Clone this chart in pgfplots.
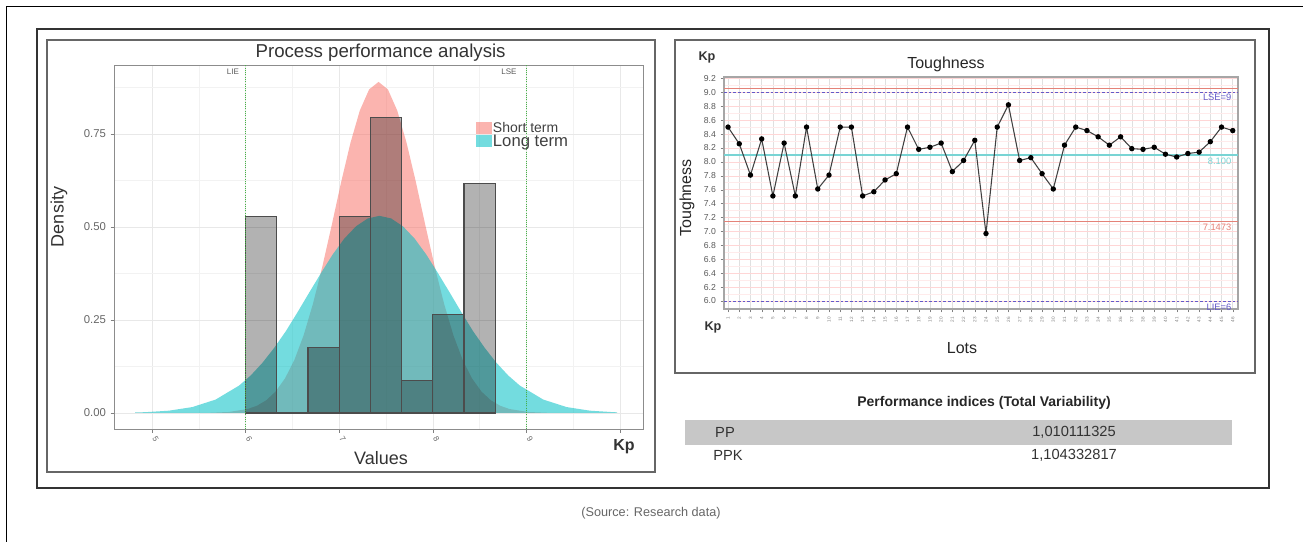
\documentclass[border=0pt]{standalone}
\usepackage{fontspec}
\setmainfont{Liberation Sans}
\usepackage{pgfplots}
\pgfplotsset{compat=1.18}
\usepackage{pgfplotstable}

\definecolor{stred}{HTML}{F8766D}
\definecolor{ltcyan}{HTML}{00BFC4}
\definecolor{limblue}{RGB}{100,90,200}
\definecolor{clcyan}{RGB}{120,212,212}
\definecolor{lclred}{RGB}{228,130,120}
\definecolor{specgreen}{RGB}{70,180,70}

\pgfplotstableread{
x y
4.82 0.0000
5.42 0.0001
5.62 0.0006
5.82 0.0027
6.02 0.0106
6.12 0.0194
6.22 0.0342
6.32 0.0576
6.42 0.0926
6.52 0.142
6.62 0.209
6.72 0.294
6.82 0.394
6.92 0.505
7.02 0.620
7.12 0.726
7.22 0.813
7.32 0.870
7.42 0.890
7.52 0.870
7.62 0.813
7.72 0.726
7.82 0.620
7.92 0.505
8.02 0.394
8.12 0.294
8.22 0.209
8.32 0.142
8.42 0.0926
8.52 0.0576
8.62 0.0342
8.72 0.0194
8.82 0.0106
9.02 0.0027
9.22 0.0006
9.42 0.0001
9.97 0.0000
}\shortterm

\pgfplotstableread{
x y
4.82 0.0014
4.93 0.0022
5.18 0.0062
5.43 0.0159
5.68 0.0361
5.93 0.0737
6.055 0.101
6.18 0.135
6.305 0.175
6.43 0.220
6.555 0.271
6.68 0.324
6.805 0.376
6.93 0.426
7.055 0.469
7.18 0.502
7.305 0.523
7.43 0.530
7.555 0.523
7.68 0.502
7.805 0.469
7.93 0.426
8.055 0.376
8.18 0.324
8.305 0.271
8.43 0.220
8.555 0.175
8.68 0.135
8.805 0.101
8.93 0.0737
9.18 0.0361
9.43 0.0159
9.68 0.0062
9.93 0.0022
9.97 0.0018
}\longterm

\pgfplotstableread{
x y
6.000 0.529
6.333 0.000
6.667 0.176
7.000 0.529
7.333 0.794
7.667 0.088
8.000 0.265
8.333 0.618
8.667 0.000
}\hist

\pgfplotstableread{
lot val
1 8.50
2 8.26
3 7.81
4 8.33
5 7.51
6 8.27
7 7.51
8 8.50
9 7.61
10 7.81
11 8.50
12 8.50
13 7.51
14 7.57
15 7.74
16 7.83
17 8.50
18 8.18
19 8.21
20 8.27
21 7.86
22 8.02
23 8.31
24 6.97
25 8.50
26 8.82
27 8.02
28 8.06
29 7.83
30 7.61
31 8.24
32 8.50
33 8.45
34 8.36
35 8.24
36 8.36
37 8.19
38 8.18
39 8.21
40 8.11
41 8.07
42 8.12
43 8.14
44 8.29
45 8.50
46 8.45
}\tough

\begin{document}
\begin{tikzpicture}
\begin{scope}[x=0.75pt,y=0.75pt]
\path[use as bounding box] (0,0) rectangle (1303,542);
% outer frames
\draw[black, line width=0.6pt] (6,0) -- (6,536) -- (1303,536);
\draw[black!80, line width=1.8pt] (37,513) rectangle (1269,54);
\draw[black!60, line width=1.4pt] (47,502) rectangle (655,70);
\draw[black!60, line width=1.4pt] (675,502) rectangle (1255,169);
\fill[black!22] (685,122) rectangle (1232,97);
\end{scope}

% ---------------- left chart ----------------
\begin{axis}[at={(85.95pt,357.75pt)}, anchor=north west, scale only axis,
  width=396.3pt, height=273pt,
  xmin=4.6, xmax=10.246, ymin=-0.043, ymax=0.9355,
  xtick={5,6,7,8,9,10}, xticklabels={5,6,7,8,9,{}},
  ytick={0,0.25,0.5,0.75},
  minor xtick={5.5,6.5,7.5,8.5,9.5}, minor ytick={0.125,0.375,0.625,0.875},
  grid=both, major grid style={black!9}, minor grid style={black!5},
  axis line style={black!45, line width=0.6pt},
  tick pos=left, tick align=outside, major tick length=3pt, minor tick length=0pt,
  tick style={black!50},
  /pgf/number format/assume math mode=true,
  yticklabel style={font=\fontsize{8.5}{8.5}\selectfont, text=black!60,
    /pgf/number format/.cd, fixed, fixed zerofill, precision=2},
  xticklabel style={font=\fontsize{6}{6}\selectfont, text=black!60, rotate=-60, anchor=west},
  legend style={at={(0.683,0.845)}, anchor=north west, draw=none, fill=none,
    inner sep=0pt, outer sep=0pt, row sep=-1pt,
    nodes={inner sep=0.6pt, text=black!75}},
  legend cell align=left,
  legend image code/.code={\fill[#1] (0pt,-4.6pt) rectangle (12.5pt,4.6pt);},
]
\addplot[fill=stred, fill opacity=0.55, draw=none] table[x=x,y=y] {\shortterm} \closedcycle;
\addplot[fill=ltcyan, fill opacity=0.55, draw=none] table[x=x,y=y] {\longterm} \closedcycle;
\addplot[ybar interval, fill=black, fill opacity=0.3, draw=black!70, line width=0.9pt, forget plot] table[x=x,y=y] {\hist};
\addplot[specgreen, densely dotted, line width=0.7pt, forget plot] coordinates {(6,-0.043) (6,0.9355)};
\addplot[specgreen, densely dotted, line width=0.7pt, forget plot] coordinates {(9,-0.043) (9,0.9355)};
\legend{{\fontsize{10.5}{10.5}\selectfont Short term}, {\fontsize{12.5}{12.5}\selectfont Long term}}
\end{axis}

% ---------------- right chart ----------------
\begin{axis}[at={(543pt,348.75pt)}, anchor=north west, scale only axis,
  width=385.5pt, height=174pt,
  xmin=0.64, xmax=46.47, ymin=5.885, ymax=9.22,
  xtick={1,...,46},
  ytick={6.0,6.2,6.4,6.6,6.8,7.0,7.2,7.4,7.6,7.8,8.0,8.2,8.4,8.6,8.8,9.0,9.2},
  minor y tick num=1,
  grid=both, major x grid style={black!12}, major y grid style={red!16}, minor y grid style={red!8},
  axis line style={black!35, line width=0.8pt},
  tick pos=left, tick align=outside, major tick length=2.5pt, minor tick length=0pt,
  tick style={black!50},
  /pgf/number format/assume math mode=true,
  yticklabel style={font=\fontsize{6.5}{6.5}\selectfont, text=black!65,
    /pgf/number format/.cd, fixed, fixed zerofill, precision=1},
  xticklabel style={font=\fontsize{3.5}{3.5}\selectfont, text=black!50, rotate=90, anchor=east},
]
\addplot[lclred, line width=0.6pt] coordinates {(0.64,9.0527) (46.47,9.0527)};
\addplot[limblue, dash pattern=on 2pt off 1.5pt, line width=0.6pt] coordinates {(0.64,9.0) (46.47,9.0)};
\addplot[clcyan, line width=1.1pt] coordinates {(0.64,8.1) (46.47,8.1)};
\addplot[lclred, line width=0.6pt] coordinates {(0.64,7.1473) (46.47,7.1473)};
\addplot[limblue, dash pattern=on 2pt off 1.5pt, line width=0.6pt] coordinates {(0.64,6.0) (46.47,6.0)};
\addplot[black!75, line width=0.8pt, mark=*, mark size=1.6pt, mark options={fill=black, draw=black}] table[x=lot,y=val] {\tough};
\end{axis}

\begin{scope}[x=0.75pt,y=0.75pt]
\node[font=\fontsize{14}{14}\selectfont, text=black!80] at (380.6,489) {Process performance analysis};
\node[font=\fontsize{13.5}{13.5}\selectfont, text=black!80, rotate=90] at (59,325) {Density};
\node[font=\fontsize{13.5}{13.5}\selectfont, text=black!80] at (381,84) {Values};
\node[font=\bfseries\fontsize{12}{12}\selectfont, text=black!80] at (624,95) {Kp};
\node[font=\fontsize{6}{6}\selectfont, text=black!65] at (233,470) {LIE};
\node[font=\fontsize{6}{6}\selectfont, text=black!65] at (509,470) {LSE};

\node[font=\fontsize{12}{12}\selectfont, text=black!85] at (946,478) {Toughness};
\node[font=\fontsize{12}{12}\selectfont, text=black!85, rotate=90] at (687,344) {Toughness};
\node[font=\fontsize{12}{12}\selectfont, text=black!85] at (962,194) {Lots};
\node[font=\bfseries\fontsize{9.5}{9.5}\selectfont, text=black!80] at (707,485) {Kp};
\node[font=\bfseries\fontsize{9.5}{9.5}\selectfont, text=black!80] at (713,215) {Kp};
\node[font=\fontsize{7}{7}\selectfont, text=limblue, anchor=east] at (1236,445) {LSE=9};
\node[font=\fontsize{7}{7}\selectfont, text=clcyan, anchor=east] at (1236,381) {8.100};
\node[font=\fontsize{7}{7}\selectfont, text=lclred, anchor=east] at (1236,315) {7.1473};
\node[font=\fontsize{7}{7}\selectfont, text=limblue, anchor=east] at (1236,235) {LIE=6};

\node[font=\bfseries\fontsize{10.5}{10.5}\selectfont, text=black!85] at (984,139) {Performance indices (Total Variability)};
\node[font=\fontsize{11}{11}\selectfont, text=black!80] at (725,110) {PP};
\node[font=\fontsize{11}{11}\selectfont, text=black!80] at (1074,110) {1,010111325};
\node[font=\fontsize{11}{11}\selectfont, text=black!80] at (728,87) {PPK};
\node[font=\fontsize{11}{11}\selectfont, text=black!80] at (1074,87) {1,104332817};

\node[font=\fontsize{9.5}{9.5}\selectfont, text=black!60] at (651,29) {(Source: Research data)};
\end{scope}
\end{tikzpicture}
\end{document}
